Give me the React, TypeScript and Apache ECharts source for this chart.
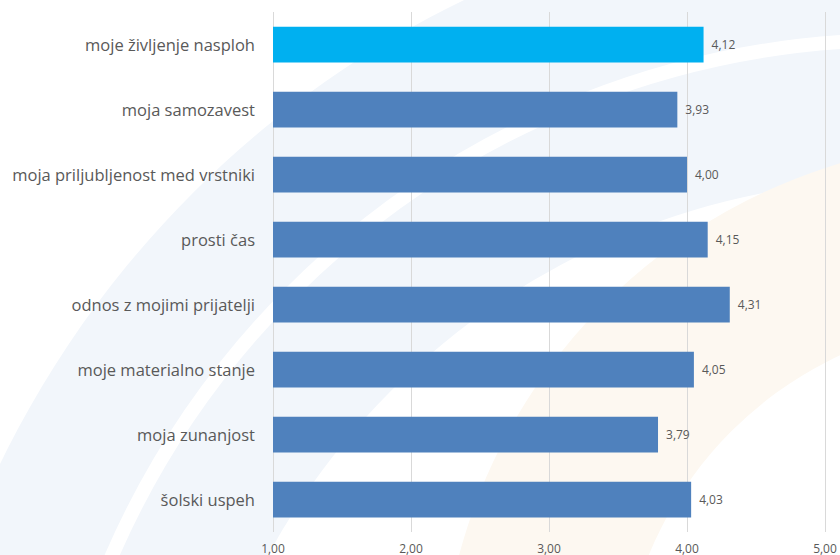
import React, { useEffect, useRef } from "react";
import * as echarts from "echarts";

const categories = [
  "moje življenje nasploh",
  "moja samozavest",
  "moja priljubljenost med vrstniki",
  "prosti čas",
  "odnos z mojimi prijatelji",
  "moje materialno stanje",
  "moja zunanjost",
  "šolski uspeh",
];
const values = [4.12, 3.93, 4.0, 4.15, 4.31, 4.05, 3.79, 4.03];
const highlightIndex = 0;
const axisMin = 1;
const axisMax = 5;
const axisInterval = 1;

const fmt = (v: number) => v.toFixed(2).replace(".", ",");

export default function App() {
  const ref = useRef<HTMLDivElement>(null);
  useEffect(() => {
    if (!ref.current) return;
    const chart = echarts.init(ref.current, null, { renderer: "svg" });
    const font = "'Open Sans', 'Noto Sans', sans-serif";
    const P = Math.PI;
    chart.setOption({
      animation: false,
      backgroundColor: "#ffffff",
      graphic: [
        {
          type: "sector",
          z: -10,
          silent: true,
          shape: { cx: 900, cy: 900, r0: 720, r: 1000, startAngle: P * 1.0, endAngle: P * 1.5 },
          style: { fill: "#f2f6fb" },
        },
        {
          type: "sector",
          z: -10,
          silent: true,
          shape: { cx: 1000, cy: 700, r0: 380, r: 560, startAngle: P * 1.05, endAngle: P * 1.45 },
          style: { fill: "#fdf8f1" },
        },
        {
          type: "arc",
          z: -9,
          silent: true,
          shape: { cx: 900, cy: 900, r: 860, startAngle: P * 1.0, endAngle: P * 1.5 },
          style: { stroke: "#ffffff", lineWidth: 14, fill: "none" },
        },
      ],
      grid: { left: 273, right: 15, top: 12, bottom: 23, containLabel: false },
      xAxis: {
        type: "value",
        min: axisMin,
        max: axisMax,
        interval: axisInterval,
        axisLine: { show: false },
        axisTick: { show: false },
        splitLine: { show: true, lineStyle: { color: "#d9d9d9", width: 1 } },
        axisLabel: {
          formatter: (v: number) => fmt(v),
          color: "#595959",
          fontSize: 12,
          fontFamily: font,
          margin: 10,
        },
      },
      yAxis: {
        type: "category",
        data: categories,
        inverse: true,
        axisLine: { show: false },
        axisTick: { show: false },
        splitLine: { show: false },
        axisLabel: {
          color: "#595959",
          fontSize: 16.5,
          fontFamily: font,
          margin: 18,
        },
      },
      series: [
        {
          type: "bar",
          barWidth: "55%",
          data: values.map((v, i) => ({
            value: v,
            itemStyle: { color: i === highlightIndex ? "#00b0f0" : "#4f81bd" },
          })),
          label: {
            show: true,
            position: "right",
            distance: 8,
            formatter: (p: any) => fmt(p.value),
            color: "#595959",
            fontSize: 12,
            fontFamily: font,
          },
        },
      ],
    });
    return () => chart.dispose();
  }, []);
  return (
    <div
      ref={ref}
      style={{ position: "fixed", left: 0, top: 0, width: 840, height: 555 }}
    />
  );
}
